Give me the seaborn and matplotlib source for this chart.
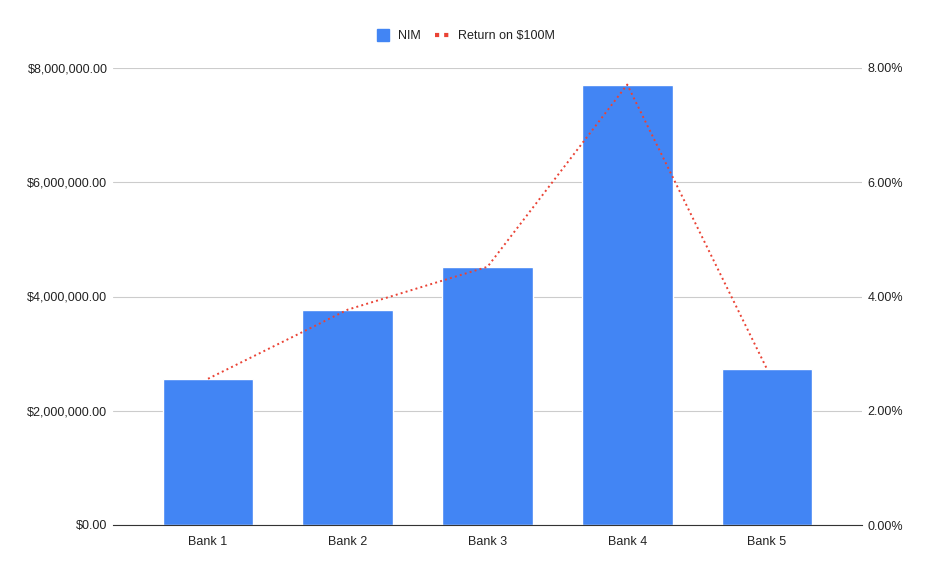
import matplotlib
matplotlib.use("Agg")
import matplotlib.pyplot as plt
from matplotlib.ticker import FuncFormatter, MultipleLocator
from matplotlib.lines import Line2D
import seaborn as sns
import pandas as pd

banks = ["Bank 1", "Bank 2", "Bank 3", "Bank 4", "Bank 5"]
nim = [2560000, 3770000, 4520000, 7710000, 2730000]
ret_pct = [2.56, 3.77, 4.52, 7.71, 2.73]

df = pd.DataFrame({"Bank": banks, "NIM": nim, "Return": ret_pct})

sns.set_style("white")
plt.rcParams["font.family"] = ["Liberation Sans", "DejaVu Sans"]
plt.rcParams["font.size"] = 9

bar_col = "#4285F4"
line_col = "#EA4335"
txt_col = "#222222"

fig = plt.figure(figsize=(9.3, 5.75), dpi=100)
ax = fig.add_axes([113 / 930, 50 / 575, (862 - 113) / 930, (525 - 68) / 575])

sns.barplot(data=df, x="Bank", y="NIM", color=bar_col, width=0.65,
            saturation=1, ax=ax, zorder=2)
ax.set_ylim(0, 8000000)
ax.yaxis.set_major_locator(MultipleLocator(2000000))
ax.yaxis.set_major_formatter(FuncFormatter(lambda v, p: f"${v:,.2f}"))
ax.grid(axis="y", color="#cccccc", linewidth=0.8, zorder=0)
ax.set_axisbelow(True)
ax.set_xlim(-0.68, 4.68)
ax.set_xlabel("")
ax.set_ylabel("")
for s in ["top", "left", "right"]:
    ax.spines[s].set_visible(False)
ax.spines["bottom"].set_color("#333333")
ax.spines["bottom"].set_linewidth(0.8)
ax.tick_params(axis="both", length=0, colors=txt_col, labelsize=9)
ax.tick_params(axis="x", pad=8)
ax.tick_params(axis="y", pad=4)

ax2 = ax.twinx()
sns.lineplot(data=df, x="Bank", y="Return", color=line_col, linestyle=":",
             linewidth=1.4, ax=ax2, sort=False)
ax2.set_ylim(0, 8)
ax2.set_xlim(-0.68, 4.68)
ax2.yaxis.set_major_locator(MultipleLocator(2))
ax2.yaxis.set_major_formatter(FuncFormatter(lambda v, p: f"{v:.2f}%"))
ax2.set_ylabel("")
ax2.set_xlabel("")
for s in ["top", "left", "right", "bottom"]:
    ax2.spines[s].set_visible(False)
ax2.tick_params(axis="y", length=0, colors=txt_col, labelsize=9, pad=4)

handles = [
    Line2D([0], [0], marker="s", color="none", markerfacecolor=bar_col,
           markeredgecolor=bar_col, markersize=9, label="NIM"),
    Line2D([0], [0], color=line_col, linestyle=(0, (1, 1.2)), linewidth=3,
           label="Return on $100M"),
]
fig.legend(handles=handles, loc="center", bbox_to_anchor=(0.5, 1 - 36 / 575),
           ncol=2, frameon=False, fontsize=9, handlelength=1.2,
           columnspacing=1.2, handletextpad=0.6, labelcolor=txt_col)

fig.savefig("out.png", dpi=100)
